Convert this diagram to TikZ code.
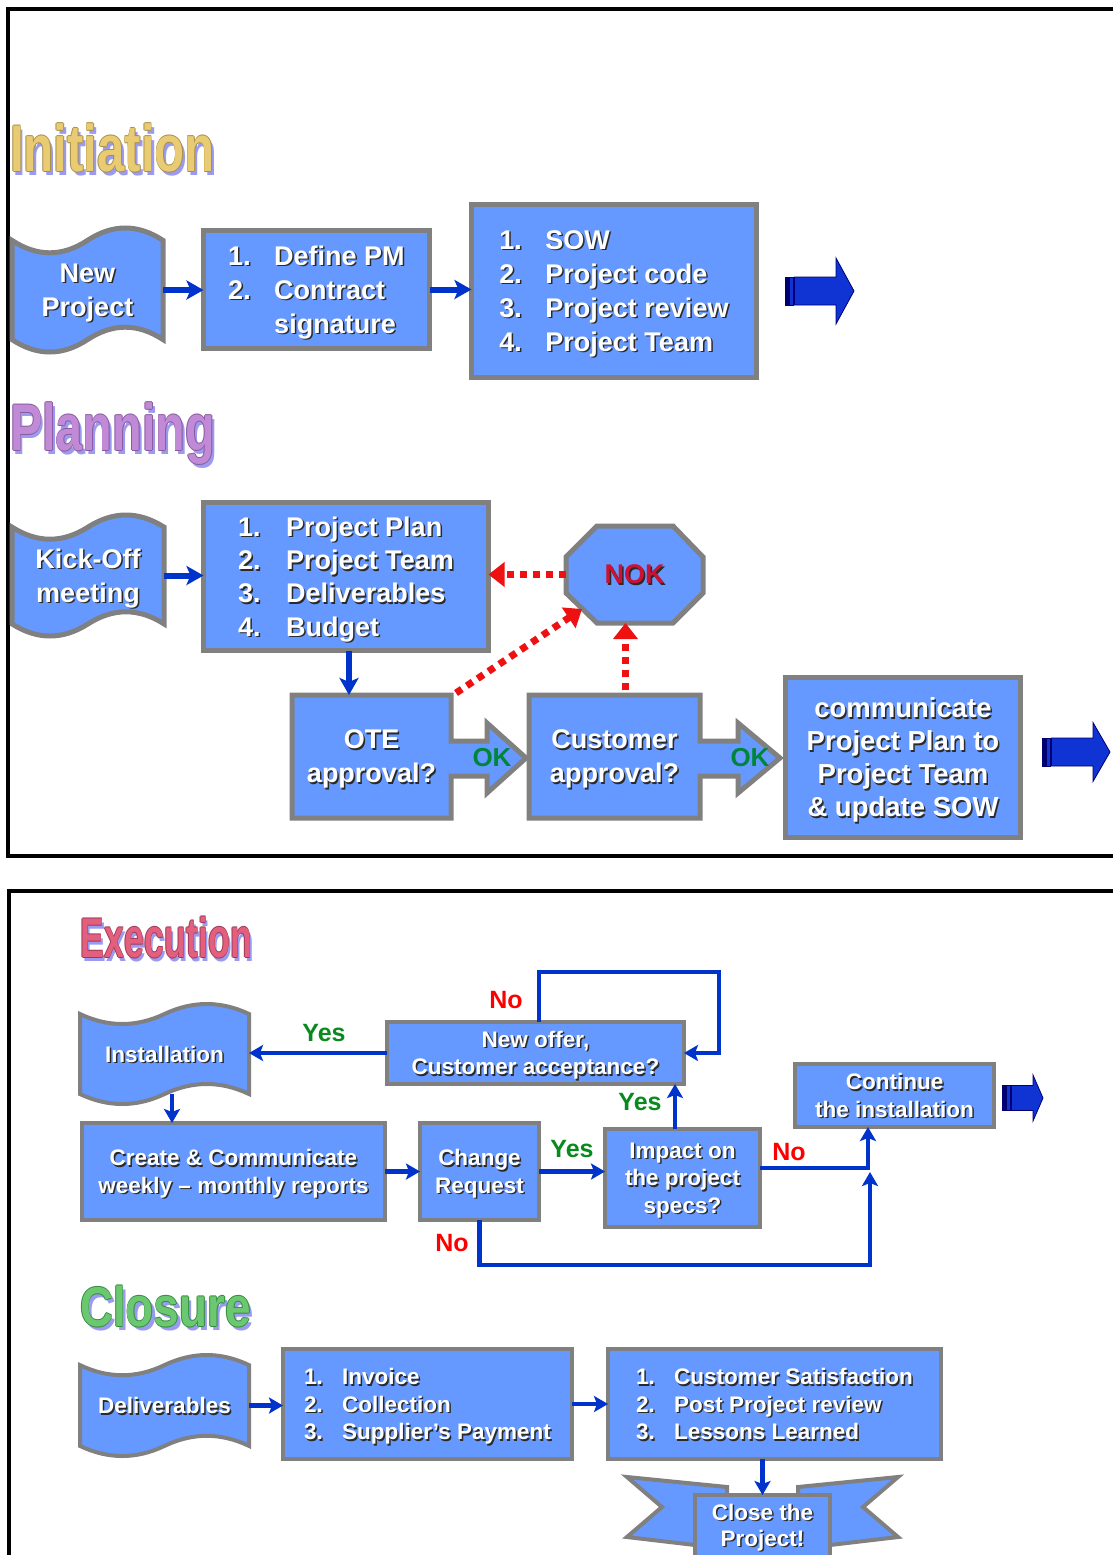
\documentclass[tikz,border=0pt]{standalone}
\usepackage{fontspec}
\setmainfont{Liberation Sans}
\usepackage{graphicx}
\usetikzlibrary{arrows.meta,calc}
\definecolor{boxblue}{HTML}{6699FF}
\definecolor{boxgray}{HTML}{808080}
\definecolor{arrblue}{HTML}{0033CC}
\definecolor{dotred}{HTML}{EE1111}
\definecolor{okgreen}{HTML}{00853A}
\definecolor{yesgreen}{HTML}{0A8A1E}
\definecolor{nored}{HTML}{FF0000}
\definecolor{nokred}{HTML}{CC1133}
\definecolor{shd}{HTML}{2A2A2A}
\definecolor{ttlsh}{HTML}{9A9AF0}
\definecolor{initfill}{HTML}{E8CB72}
\definecolor{initline}{HTML}{A89048}
\definecolor{planfill}{HTML}{C08AD6}
\definecolor{planline}{HTML}{8A5AA0}
\definecolor{execfill}{HTML}{E2607E}
\definecolor{execline}{HTML}{A03858}
\definecolor{closfill}{HTML}{6CC870}
\definecolor{closline}{HTML}{348C40}
\definecolor{bigarrow}{HTML}{1034D4}
\definecolor{bigarrowdk}{HTML}{000070}

\newcommand\sh[1]{\leavevmode\rlap{\kern1.5pt\raisebox{-1.5pt}[0pt][0pt]{\color{shd}#1}}#1}
\newcommand\itm[3]{\makebox[#1][l]{\sh{#2}}\sh{#3}}
\newcommand\ttlx[4]{\scalebox{#3}[1]{\rlap{\kern4pt\raisebox{-4pt}{\color{ttlsh}#4}}\rlap{\kern1pt\color{#2}#4}\rlap{\kern-1pt\color{#2}#4}\rlap{\raisebox{1pt}{\color{#2}#4}}\rlap{\raisebox{-1pt}{\color{#2}#4}}{\color{#1}#4}}}

\newcommand\tapeshape[5]{%
 \pgfmathsetmacro\tpw{#4-#2}%
 \pgfmathsetmacro\tpa{0.1*(#5-#3)}%
 \filldraw[shapefill, line width=#1] (#2,{#3+\tpa}) .. controls ({#2+\tpw/6},{#3+\tpa*7/3}) and ({#2+\tpw/3},{#3+\tpa*7/3}) .. ({#2+\tpw/2},{#3+\tpa}) .. controls ({#2+\tpw*2/3},{#3-\tpa/3}) and ({#2+\tpw*5/6},{#3-\tpa/3}) .. (#4,{#3+\tpa}) -- (#4,{#5-\tpa}) .. controls ({#2+\tpw*5/6},{#5-\tpa*7/3}) and ({#2+\tpw*2/3},{#5-\tpa*7/3}) .. ({#2+\tpw/2},{#5-\tpa}) .. controls ({#2+\tpw/3},{#5+\tpa/3}) and ({#2+\tpw/6},{#5+\tpa/3}) .. (#2,{#5-\tpa}) -- cycle;}

\newcommand\bigarr[6]{%
 \filldraw[fill=bigarrowdk, draw=bigarrowdk, line width=0.8pt] (#1,{#2-#3}) rectangle ({#1+3},{#2+#3});
 \filldraw[fill=bigarrow, draw=bigarrowdk, line width=0.8pt] ({#1+4.5},{#2-#3}) rectangle ({#1+8},{#2+#3});
 \filldraw[fill=bigarrow, draw=bigarrowdk, line width=0.8pt] ({#1+9.5},{#2-#3}) -- (#5,{#2-#3}) -- (#5,{#2-#4}) -- (#6,#2) -- (#5,{#2+#4}) -- (#5,{#2+#3}) -- ({#1+9.5},{#2+#3}) -- cycle;}

\begin{document}
\begin{tikzpicture}[x=1pt,y=-1pt,
  box/.style={draw=boxgray, fill=boxblue, line width=5pt, text=white, inner sep=0pt, outer sep=0pt, align=center, text depth=-2pt, font=\bfseries\fontsize{27}{34}\selectfont},
  sbox/.style={box, line width=4pt, font=\bfseries\fontsize{22.5}{27.5}\selectfont},
  shapefill/.style={draw=boxgray, fill=boxblue, line join=miter},
  lbl/.style={inner sep=0pt, outer sep=0pt, text=white, align=center, text depth=-2pt, font=\bfseries\fontsize{27}{34}\selectfont},
  slbl/.style={lbl, font=\bfseries\fontsize{22.5}{27.5}\selectfont},
  ttl/.style={anchor=base west, inner sep=0pt, outer sep=0pt},
  barrow/.style={draw=arrblue, line width=6pt, -{Stealth[length=17pt,width=19pt,inset=4pt]}},
  barrowb/.style={draw=arrblue, line width=4.5pt, -{Stealth[length=14pt,width=16pt,inset=3pt]}},
  reddot/.style={draw=dotred, line width=7pt, dash pattern=on 7pt off 6pt, -{Triangle[length=16pt,width=24pt]}},
  oklbl/.style={inner sep=0pt, text=okgreen, font=\bfseries\fontsize{26}{26}\selectfont},
  yeslbl/.style={inner sep=0pt, text=yesgreen, font=\bfseries\fontsize{25}{25}\selectfont},
  nolbl/.style={inner sep=0pt, text=nored, font=\bfseries\fontsize{25}{25}\selectfont}]
\useasboundingbox (0,0) rectangle (1113,1555);
\fill[white] (0,0) rectangle (1113,1555);

% frames
\draw[line width=4pt] (1120,9) -- (8,9) -- (8,856) -- (1120,856);
\draw[line width=4pt] (1120,891) -- (9,891) -- (9,1565);

% ===== Initiation =====
\node[ttl, font=\bfseries\fontsize{66}{66}\selectfont] (tinit) at (10,171) {\ttlx{initfill}{initline}{0.745}{Initiation}};
\tapeshape{5pt}{12}{228}{163}{352}
\node[lbl, minimum width=151pt, minimum height=124pt] (np) at (87.5,290) {\sh{New}\\\sh{Project}};
\node[box, align=left, minimum width=226pt, minimum height=118pt] (b1) at (316.5,289.5)
  {\itm{46pt}{1.}{Define PM}\\\itm{46pt}{2.}{Contract}\\\itm{46pt}{}{signature}};
\node[box, align=left, minimum width=285pt, minimum height=173pt] (b2) at (614,291)
  {\itm{46pt}{1.}{SOW}\\\itm{46pt}{2.}{Project code}\\\itm{46pt}{3.}{Project review}\\\itm{46pt}{4.}{Project Team}};
\draw[barrow] (np.east) -- (np.east -| b1.west);
\draw[barrow] (b1.east) -- (b1.east -| b2.west);
\bigarr{785}{291}{14}{33}{836}{854}

% ===== Planning =====
\node[ttl, font=\bfseries\fontsize{66}{66}\selectfont] (tplan) at (10,450) {\ttlx{planfill}{planline}{0.736}{Planning}};
\tapeshape{5pt}{12}{515}{164}{636}
\node[lbl, minimum width=152pt, minimum height=121pt] (ko) at (88,575.5) {\sh{Kick-Off}\\\sh{meeting}};
\node[box, align=left, minimum width=285pt, minimum height=148pt, font=\bfseries\fontsize{27}{33.4}\selectfont] (plan) at (346,576.5)
  {\itm{48pt}{1.}{Project Plan}\\\itm{48pt}{2.}{Project Team}\\\itm{48pt}{3.}{Deliverables}\\\itm{48pt}{4.}{Budget}};
\draw[barrow] (ko.east) -- (ko.east -| plan.west);

% NOK octagon
\filldraw[shapefill, line width=5pt] (566,557) -- (597,526) -- (673,526) -- (703,557) -- (703,593) -- (673,623) -- (597,623) -- (566,593) -- cycle;
\node[lbl, text depth=0pt, minimum width=137pt, minimum height=97pt] (nok) at (634.5,574.5) {\color{nokred}\sh{NOK}};
\coordinate (nokll) at (582,609);

% OTE approval (box with arrow)
\filldraw[shapefill, line width=5pt] (292,695) -- (451,695) -- (451,741) -- (487,741) -- (487,723) -- (526,758) -- (487,793) -- (487,776) -- (451,776) -- (451,818) -- (292,818) -- cycle;
\node[lbl, minimum width=159pt, minimum height=123pt] (ote) at (371.5,756.5) {\sh{OTE}\\\sh{approval?}};
\node[oklbl] (ok1) at (492,758) {OK};

% Customer approval
\filldraw[shapefill, line width=5pt] (529,695) -- (700,695) -- (700,741) -- (738,741) -- (738,723) -- (780,758) -- (738,793) -- (738,776) -- (700,776) -- (700,818) -- (529,818) -- cycle;
\node[lbl, minimum width=171pt, minimum height=123pt] (cust) at (614.5,756.5) {\sh{Customer}\\\sh{approval?}};
\node[oklbl] (ok2) at (750,758) {OK};

\node[box, minimum width=235pt, minimum height=160pt, font=\bfseries\fontsize{27.5}{33}\selectfont] (comm) at (903,757.5)
  {\sh{communicate}\\\sh{Project Plan to}\\\sh{Project Team}\\\sh{\& update SOW}};
\bigarr{1042}{752}{14}{29.5}{1093}{1110}

\draw[barrow] ([xshift=3pt]plan.south) -- ([xshift=3pt]plan.south |- ote.north);
\draw[reddot] (nok.west) -- (nok.west -| plan.east);
\draw[reddot] ([xshift=5pt,yshift=2pt]ote.north east) -- (nokll);
\draw[reddot] ([xshift=11pt,yshift=5pt]cust.north) -- ([xshift=11pt]cust.north |- nok.south);

% ===== Execution =====
\node[ttl, font=\bfseries\fontsize{56}{56}\selectfont] (texec) at (80,957) {\ttlx{execfill}{execline}{0.643}{Execution}};
\tapeshape{4pt}{80}{1004}{249}{1104}
\node[slbl, minimum width=169pt, minimum height=100pt] (inst) at (164.5,1054) {\sh{Installation}};
\node[sbox, minimum width=297pt, minimum height=62pt] (offer) at (535.5,1053) {\sh{New offer,}\\\sh{Customer acceptance?}};
\node[sbox, minimum width=303pt, minimum height=97pt] (create) at (233.5,1171.5) {\sh{Create \& Communicate}\\\sh{weekly -- monthly reports}};
\node[sbox, minimum width=119pt, minimum height=97pt] (change) at (479.5,1171.5) {\sh{Change}\\\sh{Request}};
\node[sbox, minimum width=155pt, minimum height=98pt] (impact) at (682.5,1178) {\sh{Impact on}\\\sh{the project}\\\sh{specs?}};
\node[sbox, minimum width=199pt, minimum height=63pt] (cont) at (894.5,1095.5) {\sh{Continue}\\\sh{the installation}};
\bigarr{1002}{1098}{12.5}{23}{1033}{1043}

\coordinate (loopc) at (719,972);
\coordinate (mrgb) at (870,1265);
\coordinate (mrg) at (870,1172);

\draw[barrowb] (offer.west) -- (offer.west -| inst.east);
\draw[barrowb] ([xshift=3.5pt]offer.north) |- (loopc) |- (offer.east);
\draw[barrowb] ([xshift=7.5pt,yshift=10pt]inst.south) -- ([xshift=7.5pt]inst.south |- create.north);
\draw[barrowb] (create.east) -- (create.east -| change.west);
\draw[barrowb] (change.east) -- (change.east -| impact.west);
\draw[barrowb] ([xshift=-7.5pt]impact.north) -- ([xshift=-7.5pt]impact.north |- offer.south);
\draw[barrowb] ([yshift=10pt]impact.east) -| ([xshift=-26.5pt]cont.south);
\draw[barrowb] (change.south) |- (mrgb) -- (mrg);

\node[yeslbl] (y1) at (324,1033) {Yes};
\node[nolbl] (n1) at (506,1000) {No};
\node[yeslbl] (y2) at (572,1149) {Yes};
\node[yeslbl] (y3) at (640,1102) {Yes};
\node[nolbl] (n2) at (789,1152) {No};
\node[nolbl] (n3) at (452,1243) {No};

% ===== Closure =====
\node[ttl, font=\bfseries\fontsize{56}{56}\selectfont] (tclos) at (80,1326) {\ttlx{closfill}{closline}{0.82}{Closure}};
\tapeshape{4pt}{80}{1355}{249}{1456}
\node[slbl, minimum width=169pt, minimum height=101pt] (del) at (164.5,1405.5) {\sh{Deliverables}};
\node[sbox, minimum width=289pt, minimum height=110pt, align=left] (cb1) at (427.5,1404)
  {\itm{38pt}{1.}{Invoice}\\\itm{38pt}{2.}{Collection}\\\itm{38pt}{3.}{Supplier's Payment}};
\node[sbox, minimum width=333pt, minimum height=110pt, align=left] (cb2) at (774.5,1404)
  {\itm{38pt}{1.}{Customer Satisfaction}\\\itm{38pt}{2.}{Post Project review}\\\itm{38pt}{3.}{Lessons Learned}};
\draw[barrowb] (del.east) -- (del.east -| cb1.west);
\draw[barrowb] (cb1.east) -- (cb1.east -| cb2.west);

% ribbon
\filldraw[shapefill, line width=4pt] (627,1477) -- (727,1487) -- (727,1500) -- (695,1545) -- (627,1537) -- (662,1507) -- cycle;
\filldraw[shapefill, line width=4pt] (898,1477) -- (798,1487) -- (798,1500) -- (830,1545) -- (898,1537) -- (863,1507) -- cycle;
\filldraw[shapefill, line width=4pt] (695,1495) rectangle (830,1575);
\node[slbl, minimum width=135pt, minimum height=60pt, font=\bfseries\fontsize{22.5}{26}\selectfont] (close) at (762.5,1525) {\sh{Close the}\\\sh{Project!}};
\draw[barrowb] (cb2.south -| close.north) -- (close.north);
\end{tikzpicture}
\end{document}
